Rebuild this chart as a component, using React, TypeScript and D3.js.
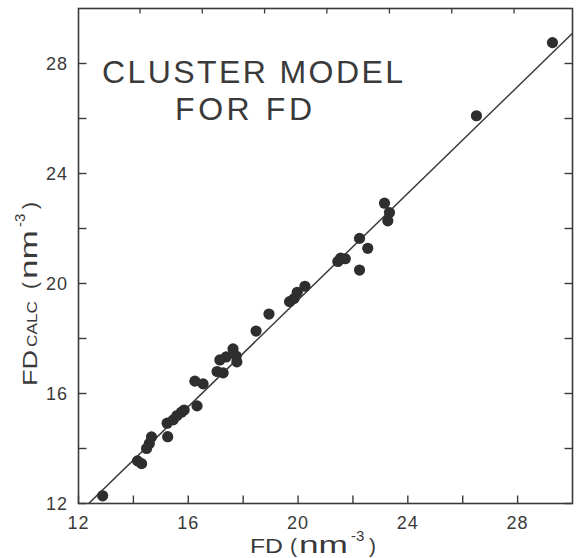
import React from "react";
import * as d3 from "d3";

// measured FD vs calculated FD (nm^-3)
const fdObserved = [
  12.88, 14.15, 14.3, 14.48, 14.58, 14.66, 15.25, 15.23, 15.45, 15.59, 15.75, 15.85,
  16.32, 16.24, 16.54, 17.05, 17.27, 17.15, 17.38, 17.63, 17.75, 17.77, 18.47, 18.94,
  19.69, 19.85, 19.97, 20.25, 21.45, 21.55, 21.72, 22.24, 22.54, 22.24, 23.15, 23.33,
  23.27, 26.5, 29.27,
];
const fdCalc = [
  12.28, 13.55, 13.45, 14.0, 14.18, 14.42, 14.43, 14.92, 15.04, 15.2, 15.32, 15.4,
  15.55, 16.45, 16.35, 16.8, 16.75, 17.22, 17.33, 17.62, 17.36, 17.15, 18.27, 18.89,
  19.34, 19.45, 19.68, 19.9, 20.8, 20.92, 20.9, 21.64, 21.28, 20.49, 22.92, 22.58,
  22.28, 26.1, 28.76,
];

const axisTicks = [12, 14, 16, 18, 20, 22, 24, 26, 28];
const tickLabels = [12, 16, 20, 24, 28];
const topTicks = [14.24, 16.51, 18.78, 21.05, 23.33, 25.6, 27.87];

const fitSlope = 0.97;
const fitIntercept = 0.0;

const titleLines = ["CLUSTER MODEL", "FOR FD"];

function App() {
  const w = 579,
    h = 558,
    margin = { top: 8.5, left: 78.5, right: 6.5, bottom: 54.5 };
  const width = w - margin.left - margin.right,
    height = h - margin.top - margin.bottom;

  const xScale = d3.scaleLinear().domain([12, 30]).range([0, width]);
  const yScale = d3.scaleLinear().domain([12, 30]).range([height, 0]);

  const ink = "#3a3a3a";
  const font = "'Liberation Sans', Arial, sans-serif";

  const points = fdObserved.map((d, i) => ({ x: d, y: fdCalc[i] }));

  const fitLine = d3
    .line<number>()
    .x((d) => xScale(d))
    .y((d) => yScale(fitSlope * d + fitIntercept));

  const tickLen = 8;
  const stretch = "spacingAndGlyphs";

  return (
    <svg width={w} height={h} style={{ position: "absolute", left: 0, top: 0, background: "#fff" }}>
      <defs>
        <clipPath id="plot-clip">
          <rect x={0} y={0} width={width} height={height} />
        </clipPath>
      </defs>
      <g transform={`translate(${margin.left},${margin.top})`}>
        {/* frame */}
        <rect x={0} y={0} width={width} height={height} fill="none" stroke={ink} strokeWidth={1.6} />

        {/* ticks */}
        {axisTicks.map((t) => (
          <g key={"t" + t} stroke={ink} strokeWidth={1.4}>
            <line x1={xScale(t)} x2={xScale(t)} y1={height} y2={height - tickLen} />
            <line x1={0} x2={tickLen} y1={yScale(t)} y2={yScale(t)} />
            <line x1={width} x2={width - tickLen} y1={yScale(t)} y2={yScale(t)} />
          </g>
        ))}
        {topTicks.map((t) => (
          <line key={"top" + t} x1={xScale(t)} x2={xScale(t)} y1={0} y2={5} stroke={ink} strokeWidth={1.3} />
        ))}

        {/* tick labels */}
        {tickLabels.map((t) => (
          <text key={"xl" + t} x={xScale(t)} y={height + 25.5} textAnchor="middle" fontSize={18} fontFamily={font} fill={ink} letterSpacing={1}>
            {t}
          </text>
        ))}
        {tickLabels.map((t) => (
          <text key={"yl" + t} x={-10.5} y={yScale(t) + 6.5} textAnchor="end" fontSize={18} fontFamily={font} fill={ink} letterSpacing={1}>
            {t}
          </text>
        ))}

        {/* fit line */}
        <path d={fitLine(xScale.domain()) || ""} fill="none" stroke={ink} strokeWidth={1.5} clipPath="url(#plot-clip)" />

        {/* points */}
        {points.map((p, i) => (
          <circle key={i} cx={xScale(p.x)} cy={yScale(p.y)} r={5.6} fill="#2e2e2e" />
        ))}

        {/* title */}
        <text x={23.5} y={74.5} fontSize={32} fontFamily={font} fill={ink} textLength={301} lengthAdjust="spacing">
          {titleLines[0]}
        </text>
        <text x={96.5} y={111.5} fontSize={32} fontFamily={font} fill={ink} textLength={137} lengthAdjust="spacing">
          {titleLines[1]}
        </text>
      </g>

      {/* x axis title */}
      <text y={553} fontSize={21} fontFamily={font} fill={ink}>
        <tspan x={250} textLength={33} lengthAdjust={stretch}>FD</tspan>
        <tspan x={290}>(</tspan>
        <tspan x={299} fontSize={23} textLength={49} lengthAdjust={stretch}>nm</tspan>
        <tspan x={351} fontSize={15} dy={-12}>-3</tspan>
        <tspan x={369} dy={12}>)</tspan>
      </text>

      {/* y axis title */}
      <g transform="translate(37,386) rotate(-90)">
        <text fontSize={21} fontFamily={font} fill={ink}>
          <tspan x={0} textLength={36} lengthAdjust={stretch}>FD</tspan>
          <tspan x={39} fontSize={14} textLength={46} lengthAdjust={stretch}>CALC</tspan>
          <tspan x={97}>(</tspan>
          <tspan x={107} fontSize={23} textLength={49} lengthAdjust={stretch}>nm</tspan>
          <tspan x={159} fontSize={15} dy={-12}>-3</tspan>
          <tspan x={177} dy={12}>)</tspan>
        </text>
      </g>
    </svg>
  );
}

export default App;
